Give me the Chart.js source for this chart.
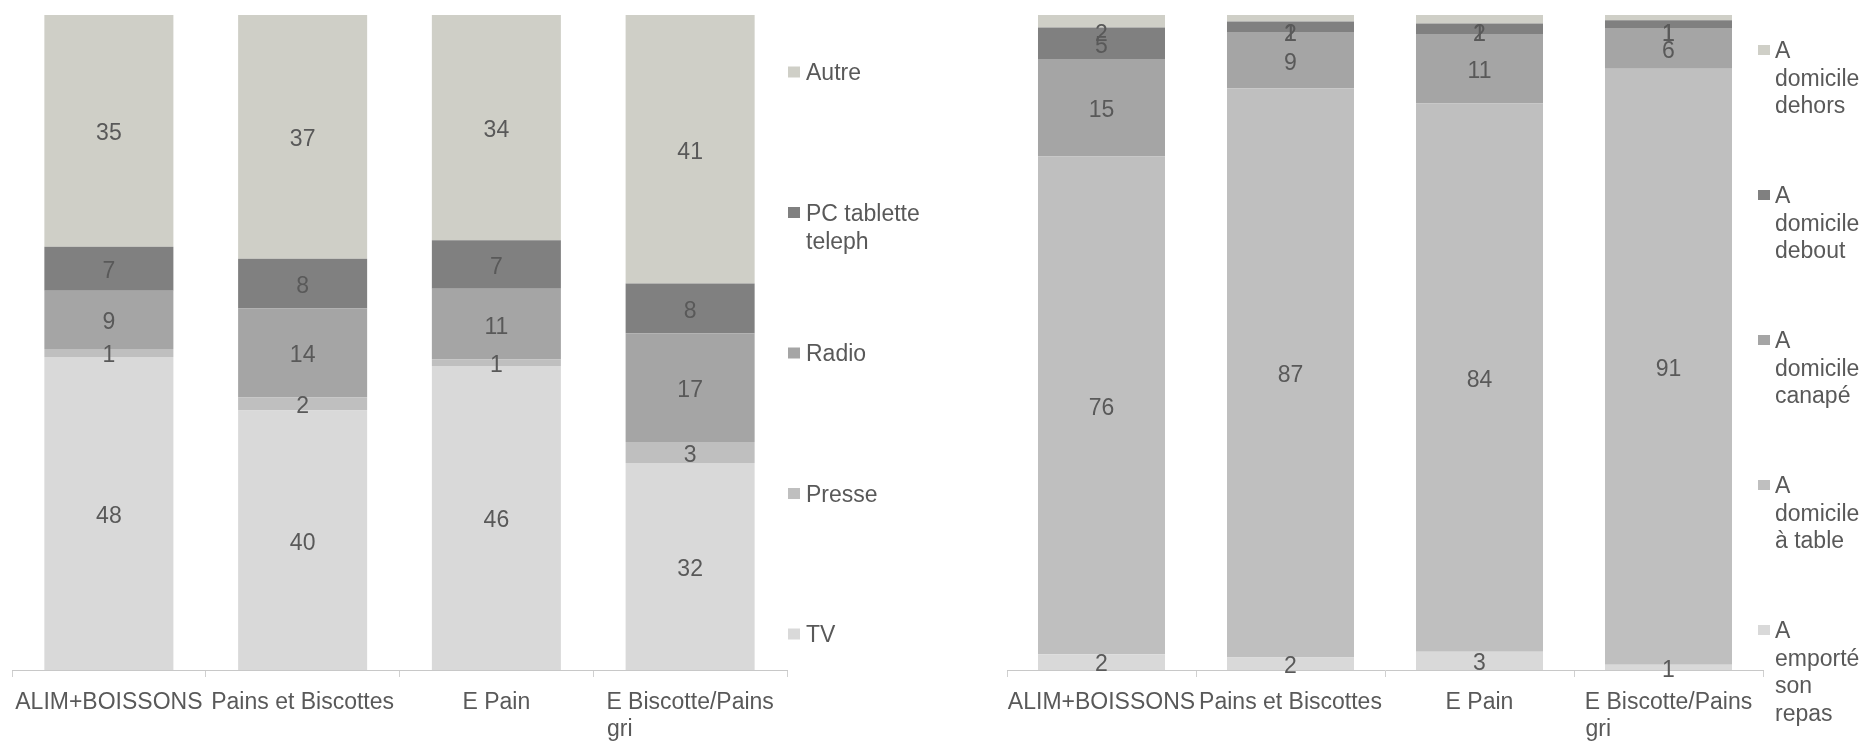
<!DOCTYPE html>
<html><head><meta charset="utf-8">
<script src="https://cdn.jsdelivr.net/npm/chart.js@4.4.1/dist/chart.umd.min.js"></script>
<style>
html,body{margin:0;padding:0;background:#fff;overflow:hidden}
#wrap{position:relative;width:1865px;height:741px}
#c1{position:absolute;left:0;top:0}
#c2{position:absolute;left:930px;top:0}
</style></head><body>
<div id="wrap"><canvas id="c1" width="930" height="741"></canvas><canvas id="c2" width="935" height="741"></canvas></div>
<script>
// ---- data ----
const categories = ['ALIM+BOISSONS', 'Pains et Biscottes', 'E Pain', ['E Biscotte/Pains', 'gri']];

// left chart: media (bottom to top)
const mediaNames = ['TV', 'Presse', 'Radio', 'PC tablette teleph', 'Autre'];
const tv       = [47.8, 39.6, 46.4, 31.6];
const presse   = [1.2, 2.0, 1.0, 3.2];
const radio    = [8.9, 13.6, 10.8, 16.6];
const pcTab    = [6.7, 7.6, 7.4, 7.6];
const autre    = [35.4, 37.2, 34.4, 41.0];

// right chart: lieu (bottom to top)
const lieuNames = ['A emporté son repas', 'A domicile à table', 'A domicile canapé', 'A domicile debout', 'A domicile dehors'];
const emporte  = [2.4, 1.9, 2.8, 0.8];
const table    = [76.0, 86.9, 83.7, 91.0];
const canape   = [14.9, 8.6, 10.6, 6.2];
const debout   = [4.8, 1.6, 1.6, 1.2];
const dehors   = [1.9, 1.0, 1.3, 0.8];

const colors = ['#D9D9D9', '#BFBFBF', '#A5A5A5', '#808080', '#CFCFC7'];

// ---- style helpers ----
const FONT = '"Liberation Sans", Arial, sans-serif';
const FS = 23;
const TXT = '#595959';
const measureCtx = document.createElement('canvas').getContext('2d');
measureCtx.font = FS + 'px ' + FONT;

function leftAlign(lines) {
  const w = Math.max(...lines.map(l => measureCtx.measureText(l).width));
  return lines.map(l => { let s = l; while (measureCtx.measureText(s + ' ').width <= w + 2) s += ' '; return s; });
}
function wrapWords(ctx, text, maxW) {
  const words = text.split(' ');
  const lines = [];
  let cur = '';
  words.forEach(wd => {
    const t = cur ? cur + ' ' + wd : wd;
    if (cur && ctx.measureText(t).width > maxW) { lines.push(cur); cur = wd; } else cur = t;
  });
  if (cur) lines.push(cur);
  return lines;
}

const valueLabels = {
  id: 'valueLabels',
  afterDatasetsDraw(chart, args, opts) {
    const {ctx, chartArea} = chart;
    ctx.save();
    ctx.font = FS + 'px ' + FONT;
    ctx.fillStyle = TXT;
    ctx.textAlign = 'center';
    ctx.textBaseline = 'middle';
    chart.data.datasets.forEach((ds, di) => {
      const meta = chart.getDatasetMeta(di);
      meta.data.forEach((bar, i) => {
        const y = Math.max((bar.y + bar.base) / 2, chartArea.top + opts.minOffset);
        ctx.fillText(String(Math.round(ds.data[i])), bar.x, y + 3);
      });
    });
    ctx.restore();
  }
};

const sideLegend = {
  id: 'sideLegend',
  afterDraw(chart, args, opts) {
    const ctx = chart.ctx;
    ctx.save();
    ctx.font = FS + 'px ' + FONT;
    ctx.textBaseline = 'middle';
    ctx.textAlign = 'left';
    const items = chart.data.datasets.slice().reverse();
    items.forEach((d, k) => {
      const y = opts.y0 + k * opts.step;
      ctx.fillStyle = d.backgroundColor;
      ctx.fillRect(opts.x, y - opts.boxH / 2, opts.boxW, opts.boxH);
      ctx.fillStyle = TXT;
      wrapWords(ctx, d.label, opts.maxWidth).forEach((line, j) => {
        ctx.fillText(line, opts.x + opts.boxW + opts.gap, y + 2 + j * opts.lineHeight);
      });
    });
    ctx.restore();
  }
};

function makeChart(canvasId, names, series, barPct, pad, legendOpts) {
  return new Chart(document.getElementById(canvasId), {
    type: 'bar',
    data: {
      labels: categories,
      datasets: series.map((s, i) => ({
        label: names[i], data: s, backgroundColor: colors[i], borderWidth: 0,
        categoryPercentage: 1, barPercentage: barPct
      }))
    },
    options: {
      responsive: false,
      animation: false,
      layout: { padding: pad },
      plugins: {
        legend: { display: false },
        tooltip: { enabled: false },
        valueLabels: { minOffset: 17 },
        sideLegend: legendOpts
      },
      scales: {
        x: {
          stacked: true,
          offset: true,
          grid: { display: true, drawOnChartArea: false, drawTicks: true, tickLength: 7, offset: true, color: '#D0D0D0', lineWidth: 1 },
          border: { display: true, color: '#C8C8C8', width: 1 },
          ticks: {
            color: TXT, padding: 12, autoSkip: false, maxRotation: 0, minRotation: 0,
            font: { family: FONT, size: FS, lineHeight: 27 / FS },
            callback: function (value) {
              const lab = this.getLabelForValue(value);
              return Array.isArray(lab) ? leftAlign(lab) : lab;
            }
          }
        },
        y: { stacked: true, display: false, min: 0, max: 100 }
      }
    },
    plugins: [valueLabels, sideLegend]
  });
}

makeChart('c1', mediaNames, [tv, presse, radio, pcTab, autre], 0.666,
  { left: 12, right: 143, top: 15, bottom: -14 },
  { x: 788, y0: 72, step: 140.5, boxW: 12, boxH: 11, gap: 6, lineHeight: 28, maxWidth: 150 });

makeChart('c2', lieuNames, [emporte, table, canape, debout, dehors], 0.672,
  { left: 77, right: 102, top: 15, bottom: -14 },
  { x: 828, y0: 50, step: 145, boxW: 12, boxH: 10, gap: 5, lineHeight: 27.5, maxWidth: 90 });
</script>
</body></html>
